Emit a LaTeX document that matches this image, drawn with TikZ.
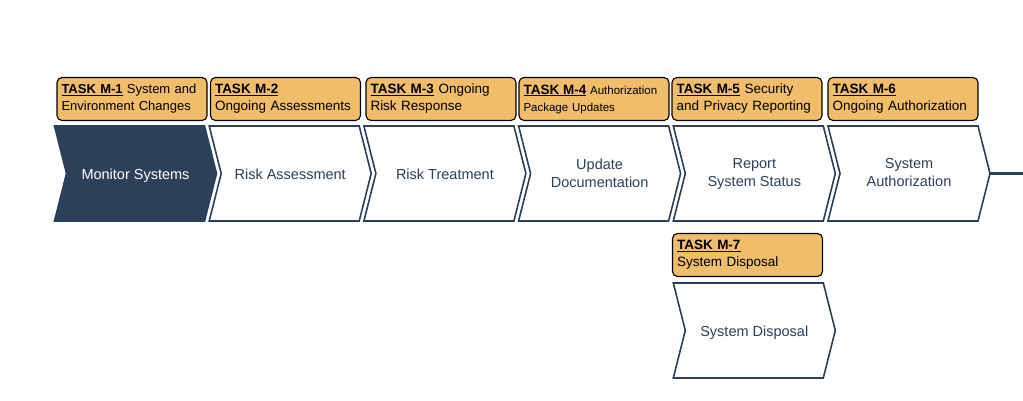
\documentclass[tikz,border=0pt]{standalone}
\usepackage{fontspec}
\setmainfont{Liberation Sans}
\usetikzlibrary{positioning}
\definecolor{navy}{HTML}{2C4159}
\definecolor{taskorange}{HTML}{F0BD6A}

\begin{document}
\begin{tikzpicture}[x=1pt,y=-1pt,
    chev/.style={draw=navy,line width=1.6pt,line join=miter},
    steptext/.style={font=\fontsize{14.5}{18}\selectfont,align=center},
    task/.style={draw=black,line width=1.1pt,rounded corners=5pt,fill=taskorange,
      minimum width=150pt,minimum height=43pt,text width=141pt,inner xsep=4.5pt,
      align=left,font=\fontsize{13.5}{17}\selectfont},
    flowline/.style={draw=navy,line width=2.6pt}]
    \useasboundingbox (0,0) rectangle (1023,401);

    % chevrons of the monitor step
    \foreach \i/\fillc/\textc/\txt in {1/navy/white/{Monitor Systems},
        2/white/navy/{Risk Assessment},3/white/navy/{Risk Treatment},
        4/white/navy/{Update\\Documentation},5/white/navy/{Report\\System Status},
        6/white/navy/{System\\Authorization}} {
      \pgfmathsetmacro{\x}{54.5+154.7*(\i-1)}
      \draw[chev,fill=\fillc] (\x,126) -- ++(150,0) -- ++(12,47.5) -- ++(-12,47.5)
        -- ++(-150,0) -- ++(12,-47.5) -- cycle;
      \node[steptext,text=\textc] (step\i) at (\x+81,175.5) {\txt\strut};
    }
    \draw[chev,fill=white] (673.3,283) -- ++(150,0) -- ++(12,47.5) -- ++(-12,47.5)
      -- ++(-150,0) -- ++(12,-47.5) -- cycle;
    \node[steptext,text=navy] (step7) at (754.3,332.5) {System Disposal\strut};

    \coordinate (tip6) at (989.0,173.5);
    \coordinate (rightend) at (1023,173.5);
    \draw[flowline] (tip6) -- (rightend);

    % tasks
    \node[task,font=\fontsize{13}{17}\selectfont] (taskM1) at (132,99)
      {\underline{\textbf{TASK M-1}} System and\\Environment Changes};
    \node[task] (taskM2) at (285.5,99)
      {\underline{\textbf{TASK M-2}}\\Ongoing Assessments};
    \node[task] (taskM3) at (441,99)
      {\underline{\textbf{TASK M-3}} Ongoing\\Risk Response};
    \node[task,font=\fontsize{11.5}{17}\selectfont] (taskM4) at (594,99)
      {\underline{\textbf{\fontsize{13.5}{17}\selectfont TASK M-4}} Authorization\\Package Updates};
    \node[task] (taskM5) at (747,99)
      {\underline{\textbf{TASK M-5}} Security\\and Privacy Reporting};
    \node[task] (taskM6) at (903,99)
      {\underline{\textbf{TASK M-6}}\\Ongoing Authorization};
    \node[task] (taskM7) at (747.5,255)
      {\underline{\textbf{TASK M-7}}\\System Disposal};
\end{tikzpicture}
\end{document}
